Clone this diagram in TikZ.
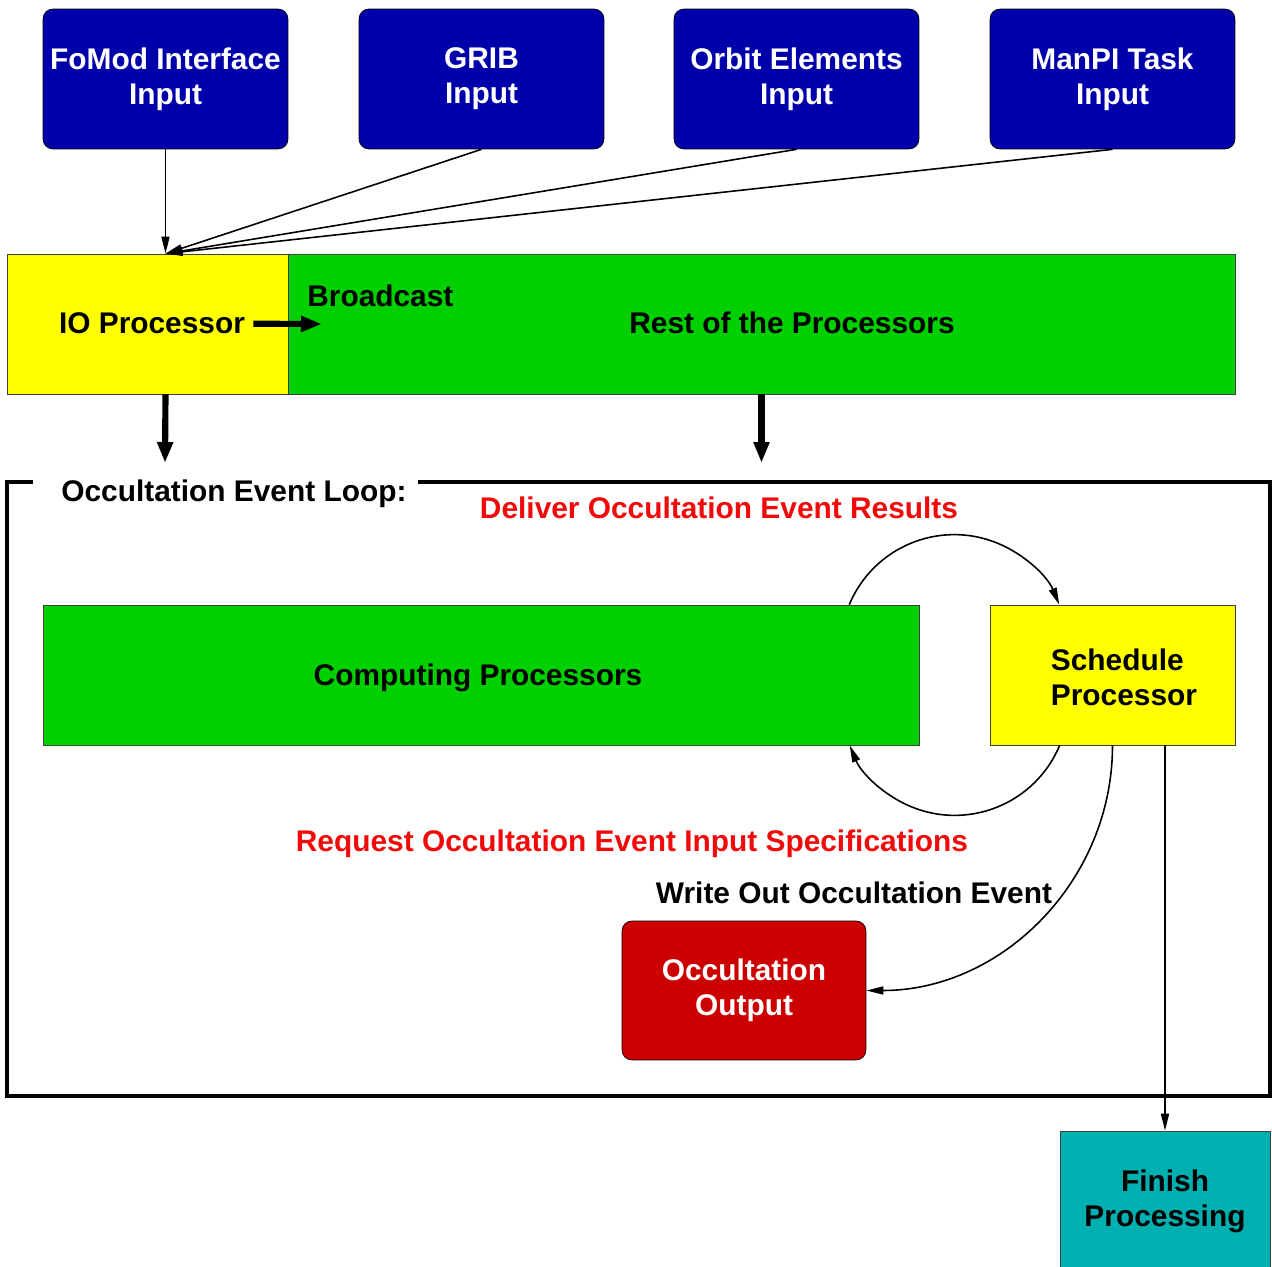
\documentclass[tikz,border=0pt]{standalone}
\usepackage{fontspec}
\setmainfont{Liberation Sans}
\usetikzlibrary{arrows.meta}

\definecolor{inblue}{RGB}{0,0,170}
\definecolor{procgreen}{RGB}{0,208,0}
\definecolor{procyellow}{RGB}{255,255,0}
\definecolor{outred}{RGB}{204,0,0}
\definecolor{msgred}{RGB}{240,10,10}
\definecolor{finteal}{RGB}{0,176,176}

\tikzset{%
  >={Triangle[length=0.34cm,width=0.16cm]},
  txt/.style={font=\bfseries\fontsize{17}{20}\selectfont},
  inbox/.style={txt,draw=black,rounded corners=0.2cm,fill=inblue,text=white,
    minimum width=4.9cm,minimum height=2.8cm,inner sep=2pt,align=center},
  procbox/.style={draw=black!75,minimum height=2.8cm,inner sep=0pt},
  lbl/.style={txt,inner sep=0pt},
  conn/.style={->,line width=0.9pt},
  fat/.style={-{Triangle[length=0.42cm,width=0.3cm]},line width=3.5pt}%
}

\begin{document}
\begin{tikzpicture}[x=0.02cm,y=-0.02cm]
\useasboundingbox (0,0) rectangle (1272,1267);

% input files
\node[inbox] (fomod) at (165.5,79) {FoMod Interface\\Input};
\node[inbox] (grib) at (481.5,79) {GRIB\\Input};
\node[inbox] (orbit) at (796.5,79) {Orbit Elements\\Input};
\node[inbox] (manpi) at (1112.5,79) {ManPI Task\\Input};

% processors
\node[procbox,fill=procyellow,minimum width=5.62cm] (io) at (147.5,324) {};
\node[procbox,fill=procgreen,minimum width=18.94cm] (rest) at (761.5,324) {};
\node[lbl,anchor=base] (iotxt) at (152,334) {IO Processor};
\node[lbl,anchor=base] (resttxt) at (792,334) {Rest of the Processors};
\node[lbl,anchor=base west] (bcast) at (307,307) {Broadcast};

\coordinate (iotop) at (fomod.south |- io.north);
\foreach \src in {fomod,grib,orbit,manpi}
  \draw[conn] (\src.south) -- (iotop);

\coordinate (bctip) at (322,324);
\draw[fat] ([xshift=0.16cm]iotxt.east) -- (bctip);

\coordinate (loopin1) at (165,463);
\coordinate (loopin2) at (761.5,463);
\draw[fat] (fomod.south |- io.south) -- (loopin1);
\draw[fat] (rest.south) -- (loopin2);

% event loop
\draw[line width=2pt] (33,482) -| (7,1096) -| (1270,482) -- (418,482);
\node[lbl,anchor=base west] (looplbl) at (61,501) {Occultation Event Loop:};

\node[procbox,fill=procgreen,minimum width=17.52cm] (comp) at (481,675) {};
\node[lbl,anchor=base] (comptxt) at (478,685) {Computing Processors};
\node[procbox,fill=procyellow,minimum width=4.9cm] (sched) at (1112.5,675) {};
\node[lbl,align=left] (schedtxt) at (1124,677) {Schedule\\Processor};

\node[inbox,fill=outred,minimum width=4.88cm,minimum height=2.78cm] (occout) at (744,990.5) {Occultation\\Output};
\node[procbox,txt,fill=finteal,minimum width=4.2cm,align=center] (finish) at (1165,1201) {Finish\\Processing};

\node[lbl,text=msgred,anchor=base] (deliver) at (719,518) {Deliver Occultation Event Results};
\node[lbl,text=msgred,anchor=base] (request) at (632,851) {Request Occultation Event Input Specifications};
\node[lbl,anchor=base] (writeout) at (854,903) {Write Out Occultation Event};

\draw[conn] ([xshift=-1.4cm]comp.north east) arc[start angle=157.4,end angle=22.6,radius=2.275cm];
\draw[conn] ([xshift=1.4cm]sched.south west) arc[start angle=-22.6,end angle=-157.4,radius=2.275cm];
\draw[conn] (sched.south) to[out=-90,in=0] (occout.east);
\draw[conn] (finish.north |- sched.south) -- (finish.north);
\end{tikzpicture}
\end{document}
